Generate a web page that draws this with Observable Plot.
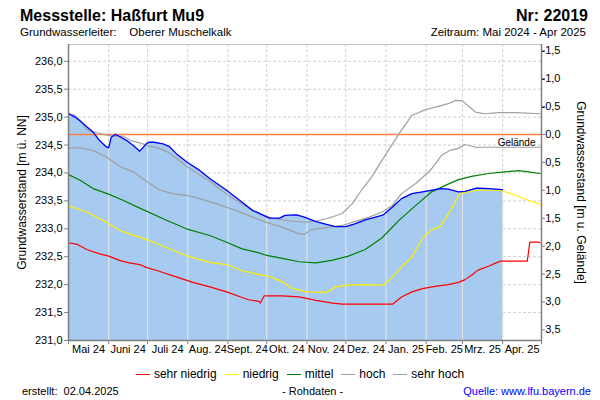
<!DOCTYPE html>
<html><head><meta charset="utf-8">
<script src="https://cdn.jsdelivr.net/npm/d3@7"></script>
<script src="https://cdn.jsdelivr.net/npm/@observablehq/plot@0.6"></script>
<style>
body{margin:0;background:#fff;font-family:"Liberation Sans",Arial,sans-serif;}
#wrap{position:relative;width:600px;height:400px;overflow:hidden;background:#fff;}
#chart{position:absolute;left:0;top:0;}
.t{position:absolute;white-space:pre;color:#000;line-height:1;}
.legend{position:absolute;left:0;width:600px;top:367px;display:flex;justify-content:center;font-size:12px;line-height:14px;}
.legend span.item{display:inline-flex;align-items:center;margin:0 4px;}
.legend span.sw{display:inline-block;width:14px;height:0;border-top:1.5px solid;margin-right:4px;}
</style></head><body>
<div id="wrap">
  <div id="chart"></div>
  <div class="t" style="left:20px;top:8px;font-size:16px;font-weight:bold">Messstelle: Haßfurt Mu9</div>
  <div class="t" style="right:12px;top:8px;font-size:16px;font-weight:bold">Nr: 22019</div>
  <div class="t" style="left:20px;top:27px;font-size:11.5px">Grundwasserleiter:    Oberer Muschelkalk</div>
  <div class="t" style="right:14px;top:27px;font-size:11.5px">Zeitraum: Mai 2024 - Apr 2025</div>
  <div class="legend" id="legend"></div>
  <div class="t" style="left:22px;top:386px;font-size:11px">erstellt:  02.04.2025</div>
  <div class="t" style="left:282px;top:386px;font-size:11px">- Rohdaten -</div>
  <div class="t" style="right:9px;top:386px;font-size:11px;color:#0000ff">Quelle: www.lfu.bayern.de</div>
</div>
<script>
// ---------- data ----------
const gelaende = 234.69;
const leftTicks = [231.0, 231.5, 232.0, 232.5, 233.0, 233.5, 234.0, 234.5, 235.0, 235.5, 236.0];
const rightTicks = [-1.5, -1.0, -0.5, 0.0, 0.5, 1.0, 1.5, 2.0, 2.5, 3.0, 3.5];
const monthLabels = ["Mai 24","Juni 24","Juli 24","Aug. 24","Sept. 24","Okt. 24","Nov. 24","Dez. 24","Jan. 25","Feb. 25","Mrz. 25","Apr. 25"];
const legendNames = ["sehr niedrig","niedrig","mittel","hoch","sehr hoch"];
const legendColors = ["#ff0000","#ffee00","#008000","#a0a0a0","#a0a0a0"];

const messwerte = [
["2024-05-01",235.06],["2024-05-06",235.00],["2024-05-10",234.93],["2024-05-20",234.73],["2024-05-25",234.58],["2024-05-30",234.47],["2024-06-01",234.45],["2024-06-03",234.64],["2024-06-06",234.69],["2024-06-08",234.67],["2024-06-15",234.58],["2024-06-20",234.49],["2024-06-25",234.39],["2024-06-30",234.52],["2024-07-02",234.55],["2024-07-06",234.55],["2024-07-13",234.52],["2024-07-18",234.47],["2024-07-23",234.35],["2024-07-31",234.20],["2024-08-10",234.05],["2024-08-18",233.90],["2024-08-31",233.69],["2024-09-10",233.51],["2024-09-20",233.33],["2024-09-25",233.28],["2024-10-03",233.19],["2024-10-11",233.19],["2024-10-15",233.24],["2024-10-24",233.25],["2024-10-30",233.21],["2024-11-08",233.13],["2024-11-16",233.08],["2024-11-23",233.04],["2024-12-01",233.04],["2024-12-08",233.09],["2024-12-16",233.16],["2024-12-24",233.21],["2024-12-30",233.25],["2025-01-06",233.39],["2025-01-13",233.54],["2025-01-21",233.63],["2025-01-29",233.66],["2025-02-05",233.69],["2025-02-12",233.72],["2025-02-18",233.71],["2025-02-26",233.66],["2025-03-03",233.67],["2025-03-12",233.73],["2025-03-21",233.72],["2025-04-01",233.70]
];
const sehrHoch = [
["2024-05-01",235.07],["2024-05-06",235.03],["2024-05-10",234.94],["2024-05-15",234.78],["2024-05-23",234.72],["2024-05-30",234.68],["2024-06-04",234.66],["2024-06-12",234.66],["2024-06-18",234.58],["2024-06-25",234.54],["2024-07-01",234.49],["2024-07-10",234.44],["2024-07-18",234.36],["2024-07-31",234.12],["2024-08-18",233.85],["2024-08-31",233.62],["2024-09-12",233.44],["2024-09-25",233.26],["2024-10-07",233.18],["2024-10-19",233.14],["2024-11-01",233.12],["2024-11-08",233.14],["2024-11-16",233.18],["2024-11-28",233.27],["2024-12-06",233.45],["2024-12-13",233.69],["2024-12-21",233.93],["2024-12-29",234.23],["2025-01-03",234.41],["2025-01-11",234.70],["2025-01-21",235.03],["2025-01-31",235.13],["2025-02-08",235.18],["2025-02-18",235.24],["2025-02-24",235.30],["2025-03-01",235.29],["2025-03-11",235.09],["2025-03-18",235.06],["2025-03-29",235.08],["2025-04-11",235.08],["2025-04-30",235.06]
];
const hoch = [
["2024-05-01",234.45],["2024-05-10",234.45],["2024-05-20",234.40],["2024-05-30",234.29],["2024-06-10",234.11],["2024-06-20",234.02],["2024-06-30",233.85],["2024-07-10",233.70],["2024-07-20",233.63],["2024-07-31",233.60],["2024-08-10",233.54],["2024-08-23",233.45],["2024-09-07",233.33],["2024-09-20",233.21],["2024-09-30",233.12],["2024-10-13",233.03],["2024-10-26",232.91],["2024-10-30",232.90],["2024-11-04",232.98],["2024-11-16",233.02],["2024-11-28",233.06],["2024-12-11",233.15],["2024-12-19",233.21],["2024-12-29",233.30],["2025-01-06",233.42],["2025-01-13",233.63],["2025-01-24",233.81],["2025-01-31",233.96],["2025-02-05",234.07],["2025-02-13",234.32],["2025-02-20",234.41],["2025-02-26",234.44],["2025-03-03",234.51],["2025-03-11",234.46],["2025-04-30",234.46]
];
const mittel = [
["2024-05-01",233.97],["2024-05-10",233.87],["2024-05-20",233.72],["2024-06-01",233.62],["2024-06-12",233.51],["2024-06-25",233.37],["2024-07-16",233.15],["2024-07-31",233.00],["2024-08-18",232.88],["2024-08-31",232.76],["2024-09-12",232.64],["2024-09-25",232.57],["2024-09-30",232.53],["2024-10-13",232.47],["2024-10-26",232.41],["2024-11-08",232.39],["2024-11-21",232.44],["2024-12-03",232.51],["2024-12-16",232.63],["2024-12-29",232.84],["2025-01-11",233.15],["2025-01-24",233.42],["2025-02-05",233.66],["2025-02-18",233.80],["2025-02-26",233.88],["2025-03-08",233.94],["2025-03-21",233.99],["2025-04-03",234.02],["2025-04-13",234.04],["2025-04-21",234.02],["2025-04-30",233.99]
];
const niedrig = [
["2024-05-01",233.41],["2024-05-15",233.30],["2024-05-30",233.12],["2024-06-10",232.97],["2024-06-17",232.91],["2024-06-25",232.85],["2024-06-30",232.81],["2024-07-15",232.67],["2024-07-31",232.52],["2024-08-18",232.40],["2024-08-31",232.36],["2024-09-12",232.25],["2024-09-25",232.18],["2024-10-03",232.15],["2024-10-13",232.05],["2024-10-21",231.93],["2024-11-01",231.87],["2024-11-16",231.86],["2024-11-23",231.96],["2024-12-03",231.99],["2024-12-16",232.00],["2024-12-30",231.99],["2025-01-06",232.14],["2025-01-13",232.32],["2025-01-21",232.50],["2025-01-29",232.83],["2025-02-05",232.98],["2025-02-12",233.04],["2025-02-15",233.16],["2025-02-20",233.33],["2025-02-26",233.60],["2025-02-27",233.64],["2025-03-13",233.69],["2025-03-30",233.69],["2025-04-11",233.60],["2025-04-21",233.51],["2025-04-30",233.44]
];
const sehrNiedrig = [
["2024-05-01",232.75],["2024-05-08",232.72],["2024-05-15",232.63],["2024-05-25",232.55],["2024-06-01",232.51],["2024-06-10",232.43],["2024-06-17",232.39],["2024-06-25",232.36],["2024-06-30",232.31],["2024-07-10",232.24],["2024-07-23",232.14],["2024-08-05",232.04],["2024-08-18",231.96],["2024-08-31",231.87],["2024-09-12",231.77],["2024-09-17",231.73],["2024-09-25",231.70],["2024-09-26",231.67],["2024-09-29",231.80],["2024-10-13",231.80],["2024-10-26",231.78],["2024-11-08",231.72],["2024-11-21",231.67],["2024-11-28",231.65],["2025-01-06",231.65],["2025-01-13",231.78],["2025-01-21",231.87],["2025-01-29",231.93],["2025-02-08",231.97],["2025-02-18",232.00],["2025-02-26",232.04],["2025-03-03",232.09],["2025-03-08",232.17],["2025-03-13",232.26],["2025-03-21",232.33],["2025-03-27",232.39],["2025-03-30",232.42],["2025-04-20",232.42],["2025-04-22",232.76],["2025-04-29",232.76],["2025-04-30",232.75]
];

// ---------- build ----------
const parse = d3.utcParse("%Y-%m-%d");
const rows = arr => arr.map(([d, v]) => ({date: parse(d), value: v}));
const blue = rows(messwerte);
const xStart = parse("2024-05-01"), xEnd = parse("2025-05-01");
const months = d3.utcMonth.range(xStart, d3.utcDay.offset(xEnd, 1));
const mids = months.slice(0, -1).map((m, i) => new Date((+m + +months[i + 1]) / 2));
const fmt = v => v.toFixed(1).replace(".", ",");
function interp(data, t) {
  for (let i = 0; i < data.length - 1; i++) {
    const a = data[i], b = data[i + 1];
    if (t >= a.date && t <= b.date) {
      const f = (t - a.date) / (b.date - a.date || 1);
      return a.value + f * (b.value - a.value);
    }
  }
  return data[data.length - 1].value;
}
const areaMonths = months.filter(m => m > blue[0].date && m <= blue[blue.length - 1].date);
const font = "Liberation Sans, Arial, sans-serif";

const chart = Plot.plot({
  width: 600, height: 400,
  marginTop: 44, marginBottom: 60, marginLeft: 68, marginRight: 59,
  style: {fontFamily: font, fontSize: "11px", color: "#000", background: "transparent", overflow: "visible"},
  x: {type: "utc", domain: [xStart, xEnd]},
  y: {domain: [231, 236.3]},
  marks: [
    Plot.ruleY(leftTicks.slice(1), {stroke: "#d0d0d0", strokeDasharray: "3,2"}),
    Plot.ruleX(months.slice(1, -1), {stroke: "#d0d0d0", strokeDasharray: "3,2"}),
    Plot.frame({stroke: "#c0c0c0"}),
    Plot.areaY(blue, {x: "date", y1: 231, y2: "value", fill: "#a6caf0"}),
    Plot.ruleX(areaMonths, {x: d => d, y1: 231, y2: d => interp(blue, d), stroke: "#e2e2e2", strokeWidth: 1.2}),
    Plot.ruleY([gelaende], {stroke: "#ff8040", strokeWidth: 1.5}),
    Plot.text(["Gelände"], {y: () => gelaende, text: d => d, frameAnchor: "right", dx: -6, dy: 8, textAnchor: "end", fontSize: 10, letterSpacing: 1}),
    Plot.line(rows(sehrHoch), {x: "date", y: "value", stroke: "#a0a0a0", strokeWidth: 1.2}),
    Plot.line(rows(hoch), {x: "date", y: "value", stroke: "#a0a0a0", strokeWidth: 1.2}),
    Plot.line(rows(mittel), {x: "date", y: "value", stroke: "#008000", strokeWidth: 1.2}),
    Plot.line(rows(niedrig), {x: "date", y: "value", stroke: "#ffee00", strokeWidth: 1.2}),
    Plot.line(rows(sehrNiedrig), {x: "date", y: "value", stroke: "#ff0000", strokeWidth: 1.2}),
    Plot.line(blue, {x: "date", y: "value", stroke: "#0000ff", strokeWidth: 1.3}),
    Plot.ruleX([xStart, xEnd], {stroke: "#808080", strokeWidth: 1.5}),
    Plot.ruleY([231], {stroke: "#808080", strokeWidth: 1.5}),
    Plot.axisY(leftTicks, {anchor: "left", tickSize: 4, tickPadding: 2, tickFormat: fmt, label: null, stroke: "#808080", fontSize: 11}),
    Plot.axisY(rightTicks.map(v => gelaende - v), {anchor: "right", tickSize: 3, tickFormat: () => "", label: null, stroke: "#808080"}),
    Plot.text(rightTicks, {y: v => gelaende - v, text: v => fmt(v), frameAnchor: "right", dx: 19, textAnchor: "end", fontSize: 11}),
    Plot.axisX(months, {tickSize: 4, tickFormat: () => "", label: null, stroke: "#808080"}),
    Plot.text(mids, {x: d => d, text: (d, i) => monthLabels[i], frameAnchor: "bottom", dy: 12, fontSize: 11}),
    Plot.text(["Grundwasserstand [m ü. NN]"], {text: d => d, frameAnchor: "left", dx: -46, rotate: -90, textAnchor: "middle", fontSize: 12}),
    Plot.text(["Grundwasserstand [m u. Gelände]"], {text: d => d, frameAnchor: "right", dx: 39, rotate: 90, textAnchor: "middle", fontSize: 12})
  ]
});
document.getElementById("chart").appendChild(chart);

const legend = document.getElementById("legend");
legendNames.forEach((n, i) => {
  const item = document.createElement("span");
  item.className = "item";
  const sw = document.createElement("span");
  sw.className = "sw";
  sw.style.borderTopColor = legendColors[i];
  item.appendChild(sw);
  item.appendChild(document.createTextNode(n));
  legend.appendChild(item);
});
</script>
</body></html>
